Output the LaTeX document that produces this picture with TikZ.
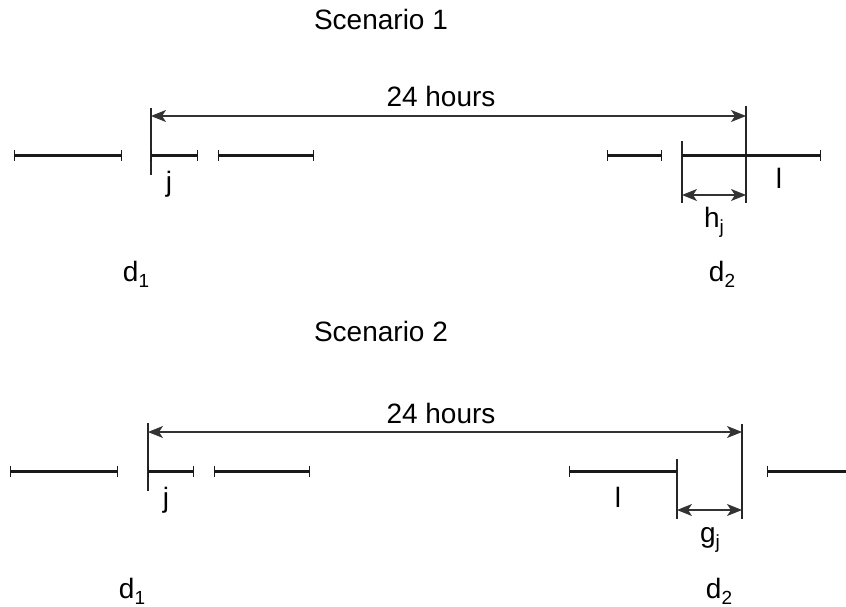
\documentclass[tikz,border=0pt]{standalone}
\usepackage{fontspec}
\setmainfont{Liberation Sans}
\usetikzlibrary{arrows.meta}
\newcommand{\lowsub}[1]{\raisebox{-0.45ex}{\fontsize{19}{19}\selectfont #1}}
\tikzset{
  lbl/.style={anchor=base, inner sep=0pt, font=\fontsize{28}{32}\selectfont},
  seg/.style={line width=2.4pt, black!90},
  barboth/.style={seg, {Bar[width=11pt,line width=1pt]}-{Bar[width=11pt,line width=1pt]}},
  barright/.style={seg, -{Bar[width=11pt,line width=1pt]}},
  barleft/.style={seg, {Bar[width=11pt,line width=1pt]}-},
  span/.style={line width=1.1pt, black!80, {Stealth[length=15pt,width=12pt,inset=4pt]}-{Stealth[length=15pt,width=12pt,inset=4pt]}},
  mark line/.style={line width=1.1pt, black!85},
}
\begin{document}
\begin{tikzpicture}[x=1pt, y=-1pt]
\useasboundingbox (0,0) rectangle (846,607);

% ---------------- Scenario 1 ----------------
\node[lbl] (t1) at (381,30) {Scenario 1};
\node[lbl] (h1) at (441,107) {24 hours};

% reference marks
\coordinate (a1top) at (151,108);
\coordinate (a1bot) at (151,175);
\coordinate (b1top) at (746,106);
\coordinate (b1bot) at (746,203);
\coordinate (c1top) at (682,141);
\coordinate (c1bot) at (682,203);
\draw[mark line] (a1top) -- (a1bot);
\draw[mark line] (b1top) -- (b1bot);
\draw[mark line] (c1top) -- (c1bot);

% 24-hour span
\coordinate (s1l) at (151,116);
\coordinate (s1r) at (746,116);
\draw[span] (s1l) -- (s1r);

% intervals
\coordinate (p1a) at (14,155.5);  \coordinate (p1b) at (122,155.5);
\coordinate (p1c) at (151,155.5); \coordinate (p1d) at (198,155.5);
\coordinate (p1e) at (218,155.5); \coordinate (p1f) at (314,155.5);
\coordinate (p1g) at (607,155.5); \coordinate (p1h) at (662,155.5);
\coordinate (p1i) at (682,155.5); \coordinate (p1k) at (821,155.5);
\draw[barboth] (p1a) -- (p1b);
\draw[barboth] (p1c) -- (p1d);
\draw[barboth] (p1e) -- (p1f);
\draw[barboth] (p1g) -- (p1h);
\draw[barright] (p1i) -- (p1k);

% headroom h_j
\coordinate (hj1) at (682,195);
\coordinate (hj2) at (746,195);
\draw[span] (hj1) -- (hj2);

\node[lbl] (j1) at (169,191) {j};
\node[lbl] (l1) at (779,189) {l};
\node[lbl] (hj) at (714,227) {h\lowsub{j}};
\node[lbl] (d11) at (136,281) {d\lowsub{1}};
\node[lbl] (d12) at (722,281) {d\lowsub{2}};

% ---------------- Scenario 2 ----------------
\node[lbl] (t2) at (381,341) {Scenario 2};
\node[lbl] (h2) at (441,423) {24 hours};

\coordinate (a2top) at (148,423);
\coordinate (a2bot) at (148,491);
\coordinate (b2top) at (742,424);
\coordinate (b2bot) at (742,519);
\coordinate (c2top) at (677,459);
\coordinate (c2bot) at (677,519);
\draw[mark line] (a2top) -- (a2bot);
\draw[mark line] (b2top) -- (b2bot);
\draw[mark line] (c2top) -- (c2bot);

\coordinate (s2l) at (148,432);
\coordinate (s2r) at (742,432);
\draw[span] (s2l) -- (s2r);

\coordinate (p2a) at (10,471.5);  \coordinate (p2b) at (118,471.5);
\coordinate (p2c) at (148,471.5); \coordinate (p2d) at (194,471.5);
\coordinate (p2e) at (214,471.5); \coordinate (p2f) at (310,471.5);
\coordinate (p2g) at (569,471.5); \coordinate (p2h) at (677,471.5);
\coordinate (p2i) at (767,471.5); \coordinate (p2k) at (846,471.5);
\draw[barboth] (p2a) -- (p2b);
\draw[barboth] (p2c) -- (p2d);
\draw[barboth] (p2e) -- (p2f);
\draw[barleft] (p2g) -- (p2h);
\draw[barleft] (p2i) -- (p2k);

% gap g_j
\coordinate (gj1) at (677,510);
\coordinate (gj2) at (742,510);
\draw[span] (gj1) -- (gj2);

\node[lbl] (j2) at (166,507) {j};
\node[lbl] (l2) at (618,507) {l};
\node[lbl] (gj) at (710,542) {g\lowsub{j}};
\node[lbl] (d21) at (132,598) {d\lowsub{1}};
\node[lbl] (d22) at (719,598) {d\lowsub{2}};
\end{tikzpicture}
\end{document}
